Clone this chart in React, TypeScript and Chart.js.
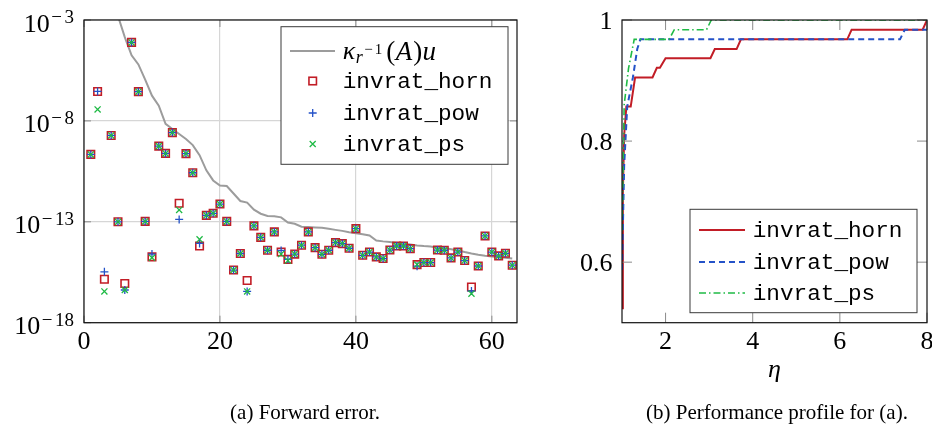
import React, { useEffect, useRef } from "react";
import { Chart, registerables } from "chart.js";
Chart.register(...registerables);

// ---------- (a) Forward error: log10 of the errors, problem index 1..63 ----------
const problems: number[] = Array.from({ length: 63 }, (_, i) => i + 1);

const hornExp: number[] = [
  -9.66, -6.54, -15.85, -8.72, -13.0, -16.06, -4.11, -6.55, -12.98, -14.74,
  -9.25, -9.61, -8.58, -12.08, -9.62, -10.57, -14.2, -12.68, -12.58, -12.12,
  -12.98, -15.39, -14.57, -15.91, -13.2, -13.77, -14.41, -13.5, -14.5, -14.86,
  -14.6, -14.16, -13.5, -14.28, -14.61, -14.41, -14.03, -14.08, -14.31, -13.34,
  -14.66, -14.5, -14.74, -14.82, -14.4, -14.2, -14.2, -14.33, -15.12, -15.02,
  -15.02, -14.4, -14.41, -14.79, -14.5, -14.92, -16.23, -15.19, -13.7, -14.5,
  -14.69, -14.56, -15.15,
];
const powExp: number[] = [
  -9.66, -6.54, -15.48, -8.72, -13.0, -16.38, -4.11, -6.55, -12.98, -14.6,
  -9.25, -9.61, -8.58, -12.88, -9.62, -10.57, -14.07, -12.68, -12.58, -12.12,
  -12.98, -15.39, -14.57, -16.45, -13.2, -13.77, -14.41, -13.5, -14.42, -14.86,
  -14.6, -14.16, -13.5, -14.28, -14.61, -14.41, -14.03, -14.08, -14.31, -13.34,
  -14.66, -14.5, -14.74, -14.82, -14.4, -14.2, -14.2, -14.33, -15.2, -15.02,
  -15.02, -14.4, -14.41, -14.79, -14.5, -14.92, -16.43, -15.19, -13.7, -14.5,
  -14.69, -14.56, -15.15,
];
const psExp: number[] = [
  -9.66, -7.43, -16.45, -8.72, -13.0, -16.38, -4.11, -6.55, -12.98, -14.78,
  -9.25, -9.61, -8.58, -12.41, -9.62, -10.57, -13.87, -12.68, -12.58, -12.12,
  -12.98, -15.39, -14.57, -16.45, -13.2, -13.77, -14.41, -13.5, -14.6, -14.92,
  -14.6, -14.16, -13.5, -14.28, -14.61, -14.41, -14.03, -14.08, -14.31, -13.34,
  -14.66, -14.5, -14.74, -14.82, -14.4, -14.2, -14.2, -14.33, -15.12, -15.02,
  -15.02, -14.4, -14.41, -14.79, -14.5, -14.92, -16.56, -15.19, -13.7, -14.5,
  -14.69, -14.56, -15.15,
];
const kappaX: number[] = [
  5, 6, 7, 8, 9, 10, 11, 12, 13, 14, 15, 16, 17, 18, 19, 20, 21, 22, 23, 24,
  25, 26, 27, 28, 29, 30, 31, 32, 33, 34, 35, 36, 37, 38, 39, 40, 41, 42, 43,
  44, 45, 46, 47, 48, 49, 50, 51, 52, 53, 54, 55, 56, 57, 58, 59, 60, 61, 62, 63,
];
const kappaExp: number[] = [
  -2.8, -3.85, -4.75, -5.2, -5.95, -6.75, -7.25, -8.15, -8.4, -8.65, -8.9,
  -9.2, -9.7, -10.45, -10.95, -11.2, -11.23, -11.6, -11.97, -12.05, -12.4,
  -12.6, -12.71, -12.72, -12.78, -13.04, -13.1, -13.24, -13.26, -13.28, -13.3,
  -13.35, -13.4, -13.45, -13.52, -13.57, -13.62, -13.68, -13.93, -13.97, -14.0,
  -14.05, -14.08, -14.12, -14.17, -14.2, -14.22, -14.28, -14.3, -14.36, -14.42,
  -14.5, -14.57, -14.63, -14.68, -14.72, -14.75, -14.78, -14.82,
];
const xTicksA: number[] = [0, 20, 40, 60];
const yTickExpA: number[] = [-3, -8, -13, -18];

// ---------- (b) Performance profile ----------
const hornEta: number[] = [1, 1.02, 1.05, 1.1, 1.2, 1.3, 1.7, 1.8, 1.87, 2.0, 3.03, 3.13, 3.63, 3.73, 6.17, 6.27, 7.9, 8];
const hornRho: number[] = [0.524, 0.714, 0.81, 0.857, 0.857, 0.905, 0.905, 0.921, 0.921, 0.937, 0.937, 0.952, 0.952, 0.968, 0.968, 0.984, 0.984, 1];
const powEta: number[] = [1, 1.05, 1.12, 1.25, 1.35, 1.42, 7.38, 7.49, 8];
const powRho: number[] = [0.587, 0.76, 0.857, 0.905, 0.952, 0.968, 0.968, 0.984, 0.984];
const psEta: number[] = [1, 1.05, 1.15, 1.28, 2.08, 2.2, 2.94, 3.05, 8];
const psRho: number[] = [0.651, 0.86, 0.92, 0.968, 0.968, 0.984, 0.984, 1, 1];
const xTicksB: number[] = [2, 4, 6, 8];
const yTicksB: number[] = [0.6, 0.8, 1];
const yTickLabelsB: string[] = ["0.6", "0.8", "1"];

const RED = "#c21d26";
const BLUE = "#2452c8";
const GREEN = "#1fba45";
const GRAY = "#9c9c9c";
const SERIF = '"Liberation Serif", "Times New Roman", serif';
const MONO = '"Liberation Mono", "DejaVu Sans Mono", monospace';

const names = ["invrat_horn", "invrat_pow", "invrat_ps"];

function drawSquare(ctx: CanvasRenderingContext2D, x: number, y: number) {
  ctx.strokeStyle = RED; ctx.lineWidth = 1.6;
  ctx.strokeRect(x - 3.75, y - 3.75, 7.5, 7.5);
}
function drawPlus(ctx: CanvasRenderingContext2D, x: number, y: number) {
  ctx.strokeStyle = BLUE; ctx.lineWidth = 1.3;
  ctx.beginPath(); ctx.moveTo(x - 4, y); ctx.lineTo(x + 4, y); ctx.moveTo(x, y - 4); ctx.lineTo(x, y + 4); ctx.stroke();
}
function drawX(ctx: CanvasRenderingContext2D, x: number, y: number) {
  ctx.strokeStyle = GREEN; ctx.lineWidth = 1.3;
  ctx.beginPath(); ctx.moveTo(x - 3, y - 3); ctx.lineTo(x + 3, y + 3); ctx.moveTo(x - 3, y + 3); ctx.lineTo(x + 3, y - 3); ctx.stroke();
}

const leftPlugin = {
  id: "leftDeco",
  afterDraw(chart: any) {
    const ctx: CanvasRenderingContext2D = chart.ctx;
    const ca = chart.chartArea;
    const xs = chart.scales.x;
    const ys = chart.scales.y;
    ctx.save();
    // inner tick marks
    ctx.strokeStyle = "#8a8a8a"; ctx.lineWidth = 1;
    ctx.beginPath();
    for (const v of xTicksA) {
      const px = xs.getPixelForValue(v);
      ctx.moveTo(px, ca.bottom); ctx.lineTo(px, ca.bottom - 7);
      ctx.moveTo(px, ca.top); ctx.lineTo(px, ca.top + 7);
    }
    for (const e of yTickExpA) {
      const py = ys.getPixelForValue(Math.pow(10, e));
      ctx.moveTo(ca.left, py); ctx.lineTo(ca.left + 7, py);
      ctx.moveTo(ca.right, py); ctx.lineTo(ca.right - 7, py);
    }
    ctx.stroke();
    // frame
    ctx.strokeStyle = "#111"; ctx.lineWidth = 1.2;
    ctx.strokeRect(ca.left, ca.top, ca.right - ca.left, ca.bottom - ca.top);
    // y tick labels 10^e
    ctx.fillStyle = "#000"; ctx.textBaseline = "alphabetic"; ctx.textAlign = "left";
    const rightX = 74;
    for (const e of yTickExpA) {
      const py = ys.getPixelForValue(Math.pow(10, e));
      const digits = String(Math.abs(e));
      ctx.font = `19px ${SERIF}`;
      const dw = ctx.measureText(digits).width;
      const mw = ctx.measureText("\u2212").width;
      const dx = rightX - dw;
      ctx.fillText(digits, dx, py + 3);
      const mx = dx - 2.5 - mw;
      ctx.fillText("\u2212", mx, py + 3);
      ctx.font = `26px ${SERIF}`;
      const bw = ctx.measureText("10").width;
      ctx.fillText("10", mx - 1.5 - bw, py + 11.5);
    }
    // x tick labels
    ctx.font = `26px ${SERIF}`; ctx.textAlign = "center";
    for (const v of xTicksA) {
      ctx.fillText(String(v), xs.getPixelForValue(v), 349);
    }
    // legend
    ctx.fillStyle = "#fff"; ctx.fillRect(281, 26.7, 227, 137.6);
    ctx.strokeStyle = "#3a3a3a"; ctx.lineWidth = 1;
    ctx.strokeRect(281, 26.7, 227, 137.6);
    ctx.strokeStyle = GRAY; ctx.lineWidth = 2;
    ctx.beginPath(); ctx.moveTo(290, 51); ctx.lineTo(335, 51); ctx.stroke();
    drawSquare(ctx, 312.7, 81);
    drawPlus(ctx, 312.7, 113);
    drawX(ctx, 312.7, 144);
    ctx.fillStyle = "#000"; ctx.textAlign = "left";
    // kappa_{r^{-1}}(A)u
    let x = 342.7;
    ctx.font = `italic 26px ${SERIF}`;
    ctx.fillText("\u03BA", x, 58.5); x += ctx.measureText("\u03BA").width + 0.5;
    ctx.font = `italic 18px ${SERIF}`;
    ctx.fillText("r", x, 63); x += ctx.measureText("r").width + 1.5;
    ctx.font = `15px ${SERIF}`;
    ctx.fillText("\u2212", x, 53.5); x += ctx.measureText("\u2212").width + 2;
    ctx.fillText("1", x, 53.5); x += ctx.measureText("1").width + 4;
    ctx.font = `27px ${SERIF}`;
    ctx.fillText("(", x, 60); x += ctx.measureText("(").width + 0.5;
    ctx.font = `italic 27px ${SERIF}`;
    ctx.fillText("A", x, 60); x += ctx.measureText("A").width + 1;
    ctx.font = `27px ${SERIF}`;
    ctx.fillText(")", x, 60); x += ctx.measureText(")").width + 0.5;
    ctx.font = `italic 27px ${SERIF}`;
    ctx.fillText("u", x, 60);
    ctx.font = `22.7px ${MONO}`;
    ctx.fillText(names[0], 342.7, 87.5);
    ctx.fillText(names[1], 342.7, 119.5);
    ctx.fillText(names[2], 342.7, 150.5);
    // caption
    ctx.font = `21px ${SERIF}`; ctx.textAlign = "center";
    ctx.fillText("(a) Forward error.", 305, 419);
    ctx.restore();
  },
};

const rightPlugin = {
  id: "rightDeco",
  afterDraw(chart: any) {
    const ctx: CanvasRenderingContext2D = chart.ctx;
    const ca = chart.chartArea;
    const xs = chart.scales.x;
    const ys = chart.scales.y;
    ctx.save();
    ctx.strokeStyle = "#8a8a8a"; ctx.lineWidth = 1;
    ctx.beginPath();
    for (const v of xTicksB) {
      const px = xs.getPixelForValue(v);
      ctx.moveTo(px, ca.bottom); ctx.lineTo(px, ca.bottom - 10);
      ctx.moveTo(px, ca.top); ctx.lineTo(px, ca.top + 10);
    }
    for (const v of yTicksB) {
      const py = ys.getPixelForValue(v);
      ctx.moveTo(ca.left, py); ctx.lineTo(ca.left + 10, py);
      ctx.moveTo(ca.right, py); ctx.lineTo(ca.right - 10, py);
    }
    ctx.stroke();
    ctx.strokeStyle = "#111"; ctx.lineWidth = 1.2;
    ctx.strokeRect(ca.left, ca.top, ca.right - ca.left, ca.bottom - ca.top);
    ctx.fillStyle = "#000"; ctx.textBaseline = "alphabetic";
    ctx.font = `26px ${SERIF}`;
    ctx.textAlign = "right";
    yTicksB.forEach((v, i) => {
      ctx.fillText(yTickLabelsB[i], 67.5, ys.getPixelForValue(v) + 9);
    });
    ctx.textAlign = "center";
    for (const v of xTicksB) ctx.fillText(String(v), xs.getPixelForValue(v), 349);
    ctx.font = `italic 26px ${SERIF}`;
    ctx.fillText("\u03B7", 229.5, 377);
    // legend
    ctx.fillStyle = "#fff"; ctx.fillRect(145, 209.3, 227, 103.4);
    ctx.strokeStyle = "#3a3a3a"; ctx.lineWidth = 1;
    ctx.strokeRect(145, 209.3, 227, 103.4);
    const rows = [230, 262, 293];
    const cols = [RED, BLUE, GREEN];
    const dashes = [[], [6, 4], [7, 3, 1.5, 3]];
    const widths = [2, 2, 1.6];
    rows.forEach((ry, i) => {
      ctx.strokeStyle = cols[i]; ctx.lineWidth = widths[i]; ctx.setLineDash(dashes[i]);
      ctx.beginPath(); ctx.moveTo(154, ry); ctx.lineTo(200, ry); ctx.stroke();
    });
    ctx.setLineDash([]);
    ctx.fillStyle = "#000"; ctx.textAlign = "left";
    ctx.font = `22.7px ${MONO}`;
    rows.forEach((ry, i) => ctx.fillText(names[i], 207.7, ry + 6.5));
    ctx.font = `21px ${SERIF}`; ctx.textAlign = "center";
    ctx.fillText("(b) Performance profile for (a).", 232, 419);
    ctx.restore();
  },
};

export default function App() {
  const leftRef = useRef<HTMLCanvasElement>(null);
  const rightRef = useRef<HTMLCanvasElement>(null);

  useEffect(() => {
    const gridA = { color: "#d6d6d6", lineWidth: 1.2, drawTicks: false };
    const c1 = new Chart(leftRef.current as HTMLCanvasElement, {
      type: "scatter",
      data: {
        datasets: [
          {
            label: "kappa",
            data: kappaX.map((x, i) => ({ x, y: Math.pow(10, kappaExp[i]) })),
            showLine: true,
            pointRadius: 0,
            borderColor: GRAY,
            borderWidth: 2,
            order: 4,
          },
          {
            label: names[0],
            data: problems.map((x, i) => ({ x, y: Math.pow(10, hornExp[i]) })),
            pointStyle: "rect",
            pointRadius: 5.3,
            borderColor: RED,
            backgroundColor: "rgba(0,0,0,0)",
            borderWidth: 1.6,
            order: 3,
          },
          {
            label: names[1],
            data: problems.map((x, i) => ({ x, y: Math.pow(10, powExp[i]) })),
            pointStyle: "cross",
            pointRadius: 4,
            borderColor: BLUE,
            borderWidth: 1.3,
            order: 2,
          },
          {
            label: names[2],
            data: problems.map((x, i) => ({ x, y: Math.pow(10, psExp[i]) })),
            pointStyle: "crossRot",
            pointRadius: 4.3,
            borderColor: GREEN,
            borderWidth: 1.3,
            order: 1,
          },
        ],
      } as any,
      options: {
        animation: false,
        responsive: false,
        events: [],
        layout: { padding: { left: 0, top: 20, right: 28, bottom: 0 } },
        plugins: { legend: { display: false }, tooltip: { enabled: false } },
        scales: {
          x: {
            type: "linear",
            min: 0,
            max: 63.7,
            afterBuildTicks: (s: any) => { s.ticks = xTicksA.map((v) => ({ value: v })); },
            afterFit: (s: any) => { s.height = 424 - 322.7; },
            ticks: { display: false },
            grid: gridA,
            border: { display: false },
          },
          y: {
            type: "logarithmic",
            min: 1e-18,
            max: 1e-3,
            afterBuildTicks: (s: any) => { s.ticks = yTickExpA.map((e) => ({ value: Math.pow(10, e) })); },
            afterFit: (s: any) => { s.width = 84; },
            ticks: { display: false },
            grid: gridA,
            border: { display: false },
          },
        },
      } as any,
      plugins: [leftPlugin],
    });

    const c2 = new Chart(rightRef.current as HTMLCanvasElement, {
      type: "scatter",
      data: {
        datasets: [
          {
            label: names[0],
            data: hornEta.map((x, i) => ({ x, y: hornRho[i] })),
            showLine: true,
            pointRadius: 0,
            borderColor: RED,
            borderWidth: 2,
            order: 3,
          },
          {
            label: names[1],
            data: powEta.map((x, i) => ({ x, y: powRho[i] })),
            showLine: true,
            pointRadius: 0,
            borderColor: BLUE,
            borderWidth: 2,
            borderDash: [6, 4],
            order: 2,
          },
          {
            label: names[2],
            data: psEta.map((x, i) => ({ x, y: psRho[i] })),
            showLine: true,
            pointRadius: 0,
            borderColor: GREEN,
            borderWidth: 1.6,
            borderDash: [7, 3, 1.5, 3],
            order: 1,
          },
        ],
      } as any,
      options: {
        animation: false,
        responsive: false,
        events: [],
        layout: { padding: { left: 0, top: 20, right: 5, bottom: 0 } },
        plugins: { legend: { display: false }, tooltip: { enabled: false } },
        scales: {
          x: {
            type: "linear",
            min: 1,
            max: 8,
            afterBuildTicks: (s: any) => { s.ticks = xTicksB.map((v) => ({ value: v })); },
            afterFit: (s: any) => { s.height = 424 - 322.7; },
            ticks: { display: false },
            grid: { display: false },
            border: { display: false },
          },
          y: {
            type: "linear",
            min: 0.5,
            max: 1,
            afterBuildTicks: (s: any) => { s.ticks = yTicksB.map((v) => ({ value: v })); },
            afterFit: (s: any) => { s.width = 77; },
            ticks: { display: false },
            grid: { display: false },
            border: { display: false },
          },
        },
      } as any,
      plugins: [rightPlugin],
    });

    return () => {
      c1.destroy();
      c2.destroy();
    };
  }, []);

  return (
    <div style={{ position: "fixed", left: 0, top: 0, width: 932, height: 424, background: "#fff" }}>
      <canvas ref={leftRef} width={545} height={424} style={{ position: "absolute", left: 0, top: 0 }} />
      <canvas ref={rightRef} width={387} height={424} style={{ position: "absolute", left: 545, top: 0 }} />
    </div>
  );
}
